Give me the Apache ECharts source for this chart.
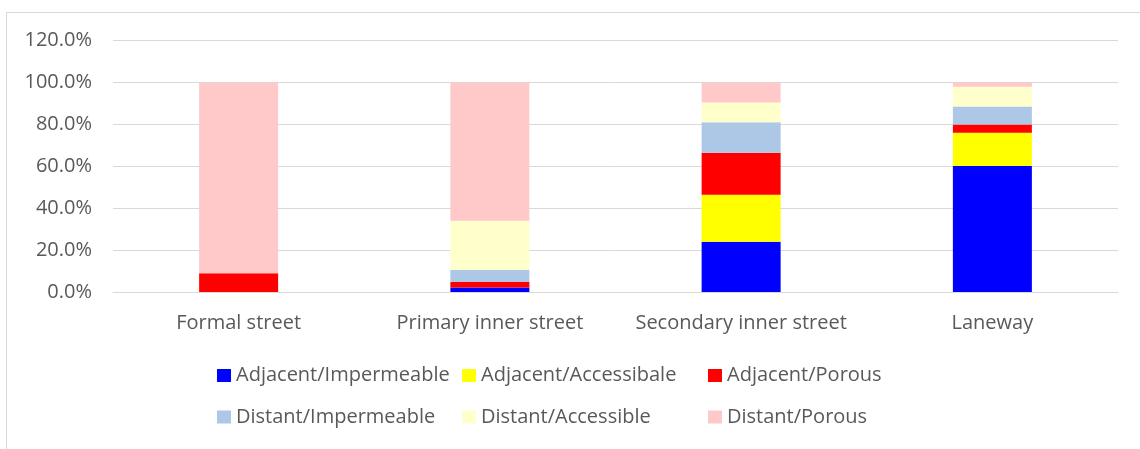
<!DOCTYPE html>
<html>
<head>
<meta charset="utf-8">
<script src="https://cdn.jsdelivr.net/npm/echarts@6/dist/echarts.min.js"></script>
<style>
  html, body { margin: 0; padding: 0; background: #fff; overflow: hidden; }
  #frame { position: absolute; left: 6px; top: 12px; width: 1150px; height: 460px;
           border: 1px solid #d9d9d9; box-sizing: border-box; }
  #chart { position: absolute; left: 0; top: 0; width: 1140px; height: 449px; }
</style>
</head>
<body>
<div id="frame"></div>
<div id="chart"></div>
<script>
const categories = ['Formal street', 'Primary inner street', 'Secondary inner street', 'Laneway'];
const yTicks = [0, 20, 40, 60, 80, 100, 120];

const adjacentImpermeable = [0, 2.2, 24.0, 60.1];
const adjacentAccessible  = [0, 0, 22.4, 15.9];
const adjacentPorous      = [8.9, 2.6, 20.1, 3.9];
const distantImpermeable  = [0, 5.7, 14.5, 8.6];
const distantAccessible   = [0, 23.5, 9.4, 9.5];
const distantPorous       = [91.1, 66.0, 9.6, 2.0];

const seriesDefs = [
  { name: 'Adjacent/Impermeable', data: adjacentImpermeable, color: '#0000ff' },
  { name: 'Adjacent/Accessibale', data: adjacentAccessible,  color: '#ffff00' },
  { name: 'Adjacent/Porous',      data: adjacentPorous,      color: '#ff0000' },
  { name: 'Distant/Impermeable',  data: distantImpermeable,  color: '#adc7e6' },
  { name: 'Distant/Accessible',   data: distantAccessible,   color: '#ffffcc' },
  { name: 'Distant/Porous',       data: distantPorous,       color: '#ffc9c9' }
];

const font = "'Open Sans', 'Noto Sans', sans-serif";
const textColor = '#595959';
const fontSize = 20;

// legend laid out as a 3 x 2 table: one legend component per entry
const legendCols = [217, 462, 708];
const legendRows = [365.5, 407];

const legends = seriesDefs.map((s, i) => ({
  left: legendCols[i % 3],
  top: legendRows[Math.floor(i / 3)],
  padding: 0,
  itemWidth: 14,
  itemHeight: 13,
  icon: 'rect',
  data: [s.name],
  textStyle: { color: textColor, fontSize: fontSize, fontFamily: font }
}));

const chart = echarts.init(document.getElementById('chart'));
chart.setOption({
  animation: false,
  grid: { left: 113, right: 22, top: 40.6, bottom: 157 },
  xAxis: {
    type: 'category',
    data: categories,
    axisLine: { lineStyle: { color: '#d9d9d9', width: 1 } },
    axisTick: { show: false },
    axisLabel: { color: textColor, fontSize: fontSize, fontFamily: font, margin: 21, interval: 0 }
  },
  yAxis: {
    type: 'value',
    min: 0, max: 120, interval: 20,
    axisLine: { show: false },
    axisTick: { show: false },
    splitLine: { lineStyle: { color: '#d9d9d9', width: 1 } },
    axisLabel: {
      color: textColor, fontSize: fontSize, fontFamily: font, margin: 21,
      formatter: v => yTicks.includes(v) ? v.toFixed(1) + '%' : ''
    }
  },
  legend: legends,
  series: seriesDefs.map(s => ({
    name: s.name,
    type: 'bar',
    stack: 'total',
    barWidth: 79,
    data: s.data,
    itemStyle: { color: s.color },
    emphasis: { disabled: true }
  }))
});
</script>
</body>
</html>
